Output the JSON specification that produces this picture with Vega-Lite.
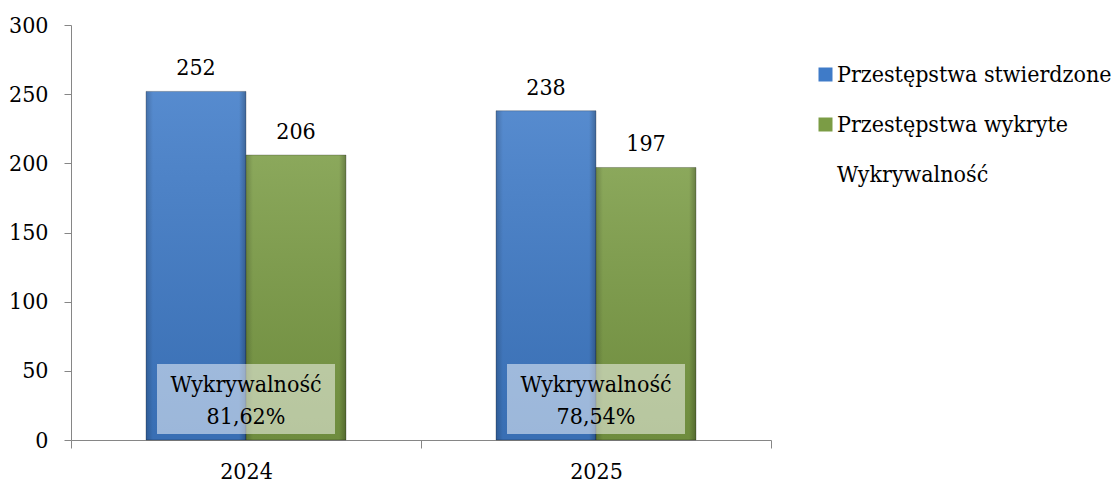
{
  "$schema": "https://vega.github.io/schema/vega-lite/v6.json",
  "autosize": {"type": "none"},
  "width": 700,
  "height": 415,
  "padding": {"left": 71, "top": 25, "right": 344, "bottom": 42},
  "background": "white",
  "config": {
    "view": {"stroke": null},
    "font": "DejaVu Serif Condensed",
    "axis": {"labelFont": "DejaVu Serif Condensed", "labelFontSize": 23, "labelColor": "black", "domainColor": "#868686", "tickColor": "#868686", "grid": false, "title": null},
    "legend": {"labelFont": "DejaVu Serif Condensed", "labelFontSize": 23, "labelColor": "black"}
  },
  "datasets": {
    "crimes": [
      {"year": "2024", "series": "Przestępstwa stwierdzone", "value": 252},
      {"year": "2024", "series": "Przestępstwa wykryte", "value": 206},
      {"year": "2025", "series": "Przestępstwa stwierdzone", "value": 238},
      {"year": "2025", "series": "Przestępstwa wykryte", "value": 197}
    ],
    "rates": [
      {"year": "2024", "label": "Wykrywalność\n81,62%"},
      {"year": "2025", "label": "Wykrywalność\n78,54%"}
    ]
  },
  "encoding": {
    "x": {
      "field": "year", "type": "nominal",
      "scale": {"paddingInner": 0, "paddingOuter": 0},
      "axis": {"labelAngle": 0, "tickBand": "extent", "tickSize": 8, "labelPadding": 12, "domainWidth": 1}
    }
  },
  "layer": [
    {
      "data": {"name": "crimes"},
      "mark": {"type": "bar", "stroke": "rgba(0,0,0,0.25)", "strokeWidth": 1},
      "encoding": {
        "xOffset": {"field": "series", "type": "nominal", "scale": {"domain": ["Przestępstwa stwierdzone", "Przestępstwa wykryte"], "paddingInner": 0, "paddingOuter": 0.75}},
        "y": {
          "field": "value", "type": "quantitative",
          "scale": {"domain": [0, 300], "nice": false},
          "axis": {"values": [0, 50, 100, 150, 200, 250, 300], "tickSize": 7, "labelPadding": 16, "domainWidth": 1}
        },
        "color": {
          "field": "series", "type": "nominal",
          "scale": {
            "domain": ["Przestępstwa stwierdzone", "Przestępstwa wykryte", "Wykrywalność"],
            "range": ["#3F7BC8", "#7B9C45", "rgba(0,0,0,0)"]
          },
          "legend": {
            "title": null, "orient": "none", "legendX": 743, "legendY": 38,
            "symbolType": "square", "symbolSize": 196, "symbolStrokeWidth": 0,
            "labelOffset": 0, "rowPadding": 26, "labelLimit": 400
          }
        }
      }
    },
    {
      "data": {"name": "crimes"},
      "mark": {
        "type": "bar",
        "color": {"gradient": "linear", "x1": 0, "y1": 0, "x2": 0, "y2": 1,
          "stops": [{"offset": 0, "color": "rgba(255,255,255,0.12)"}, {"offset": 1, "color": "rgba(0,0,0,0.1)"}]}
      },
      "encoding": {
        "xOffset": {"field": "series", "type": "nominal"},
        "y": {"field": "value", "type": "quantitative"}
      }
    },
    {
      "data": {"name": "crimes"},
      "mark": {
        "type": "bar",
        "color": {"gradient": "linear", "x1": 0, "y1": 0, "x2": 1, "y2": 0,
          "stops": [{"offset": 0, "color": "rgba(0,0,0,0.18)"}, {"offset": 0.07, "color": "rgba(0,0,0,0)"}, {"offset": 0.93, "color": "rgba(0,0,0,0)"}, {"offset": 1, "color": "rgba(0,0,0,0.25)"}]}
      },
      "encoding": {
        "xOffset": {"field": "series", "type": "nominal"},
        "y": {"field": "value", "type": "quantitative"}
      }
    },
    {
      "data": {"name": "crimes"},
      "mark": {"type": "text", "fontSize": 23, "baseline": "alphabetic", "dy": -16, "color": "black", "font": "DejaVu Serif Condensed"},
      "encoding": {
        "xOffset": {"field": "series", "type": "nominal"},
        "y": {"field": "value", "type": "quantitative"},
        "text": {"field": "value", "type": "quantitative"}
      }
    },
    {
      "data": {"name": "rates"},
      "mark": {"type": "bar", "width": {"band": 0.5086}, "color": "white", "opacity": 0.5},
      "encoding": {
        "y": {"datum": 55},
        "y2": {"datum": 4.3}
      }
    },
    {
      "data": {"name": "rates"},
      "mark": {"type": "text", "fontSize": 23, "baseline": "middle", "lineBreak": "\n", "lineHeight": 32, "color": "black", "font": "DejaVu Serif Condensed"},
      "encoding": {
        "y": {"datum": 39.8},
        "text": {"field": "label"}
      }
    }
  ]
}
